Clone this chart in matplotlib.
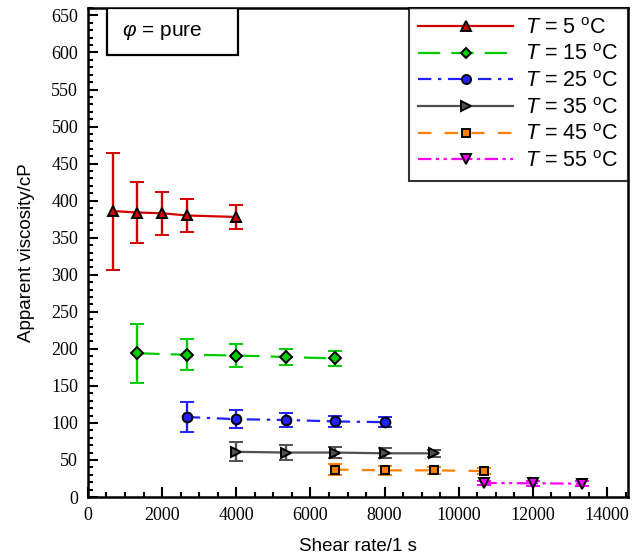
import matplotlib
matplotlib.use("Agg")
import matplotlib.pyplot as plt
from matplotlib.ticker import MultipleLocator
from matplotlib.lines import Line2D
from matplotlib.patches import Rectangle

# shear rate (1/s), apparent viscosity (cP) and error bars for each temperature
x5 = [667, 1333, 2000, 2667, 4000]
y5 = [386, 384, 383, 380, 378]
e5 = [79, 41, 29, 22, 16]

x15 = [1333, 2667, 4000, 5333, 6667]
y15 = [194, 192, 191, 189, 187]
e15 = [40, 21, 15, 11, 10]

x25 = [2667, 4000, 5333, 6667, 8000]
y25 = [108, 105, 104, 102, 101]
e25 = [20, 12, 10, 7, 7]

x35 = [4000, 5333, 6667, 8000, 9333]
y35 = [61, 60, 60, 59, 59]
e35 = [13, 10, 7, 7, 5]

x45 = [6667, 8000, 9333, 10667]
y45 = [37, 36, 36, 35]
e45 = [7, 6, 5, 4]

x55 = [10667, 12000, 13333]
y55 = [19, 18.5, 18]
e55 = [3, 3, 3]

labels = [r"$\it{T}$ = 5 $^{\rm o}$C", r"$\it{T}$ = 15 $^{\rm o}$C", r"$\it{T}$ = 25 $^{\rm o}$C",
          r"$\it{T}$ = 35 $^{\rm o}$C", r"$\it{T}$ = 45 $^{\rm o}$C", r"$\it{T}$ = 55 $^{\rm o}$C"]

series = [
    (x5, y5, e5, "#d40000", "-", "^"),
    (x15, y15, e15, "#00cc00", (0, (10, 5)), "D"),
    (x25, y25, e25, "#2020ff", (0, (6, 3, 1.5, 3)), "o"),
    (x35, y35, e35, "#505050", "-", ">"),
    (x45, y45, e45, "#ff8000", (0, (6, 6)), "s"),
    (x55, y55, e55, "#ff00ff", (0, (6, 2, 1.5, 2, 1.5, 2)), "v"),
]

plt.rcParams["mathtext.fontset"] = "custom"
plt.rcParams["mathtext.it"] = "Liberation Sans:italic"
plt.rcParams["mathtext.rm"] = "Liberation Sans"

fig = plt.figure(figsize=(6.42, 5.55), dpi=100)
ax = fig.add_axes([0.137, 0.1045, 0.841, 0.881])

msize = {"^": 7.5, "D": 6, "o": 7, ">": 7.5, "s": 6, "v": 7.5}
handles = []
for (x, y, e, c, ls, m), lab in zip(series, labels):
    ax.errorbar(x, y, yerr=e, color=c, ecolor=c, elinewidth=1.7, capsize=5, capthick=1.7,
                linestyle=ls, linewidth=1.6, marker=m, markersize=msize[m],
                markerfacecolor=c, markeredgecolor="k", markeredgewidth=1.4)
    handles.append(Line2D([], [], color=c, linestyle=ls, linewidth=1.6, marker=m,
                          markersize=msize[m] - 0.5, markerfacecolor=c,
                          markeredgecolor="k", markeredgewidth=1.4, label=lab))

ax.set_xlim(0, 14560)
ax.set_ylim(0, 660)
ax.xaxis.set_major_locator(MultipleLocator(2000))
ax.xaxis.set_minor_locator(MultipleLocator(500))
ax.yaxis.set_major_locator(MultipleLocator(50))
ax.yaxis.set_minor_locator(MultipleLocator(10))
ax.tick_params(which="both", direction="in", top=False, right=False, width=1.5)
ax.tick_params(which="major", length=7, pad=7)
ax.tick_params(which="minor", length=3.5)
for lab in ax.get_xticklabels() + ax.get_yticklabels():
    lab.set_fontfamily("Liberation Serif")
    lab.set_fontsize(13)
for s in ax.spines.values():
    s.set_linewidth(1.8)

ax.set_xlabel("Shear rate/1 s", fontfamily="Liberation Sans", fontsize=13.5, labelpad=10)
ax.set_ylabel("Apparent viscosity/cP", fontfamily="Liberation Sans", fontsize=13.5, labelpad=12)

ax.add_patch(Rectangle((0.035, 0.904), 0.243, 0.096, transform=ax.transAxes,
                       facecolor="white", edgecolor="k", linewidth=1.6, zorder=5))
ax.text(0.063, 0.951, r"$\varphi$ = pure", transform=ax.transAxes, fontsize=15,
        fontfamily="Liberation Sans", va="center", ha="left", zorder=6)

leg = ax.legend(handles=handles, loc="upper right", bbox_to_anchor=(1, 1), borderaxespad=0,
                handlelength=4.4, frameon=True, fancybox=False, edgecolor="k",
                prop={"family": "Liberation Sans", "size": 15.5}, labelspacing=0.26,
                handletextpad=0.55, borderpad=0.45)
leg.get_frame().set_linewidth(1.5)

fig.savefig("out.png", dpi=100)
